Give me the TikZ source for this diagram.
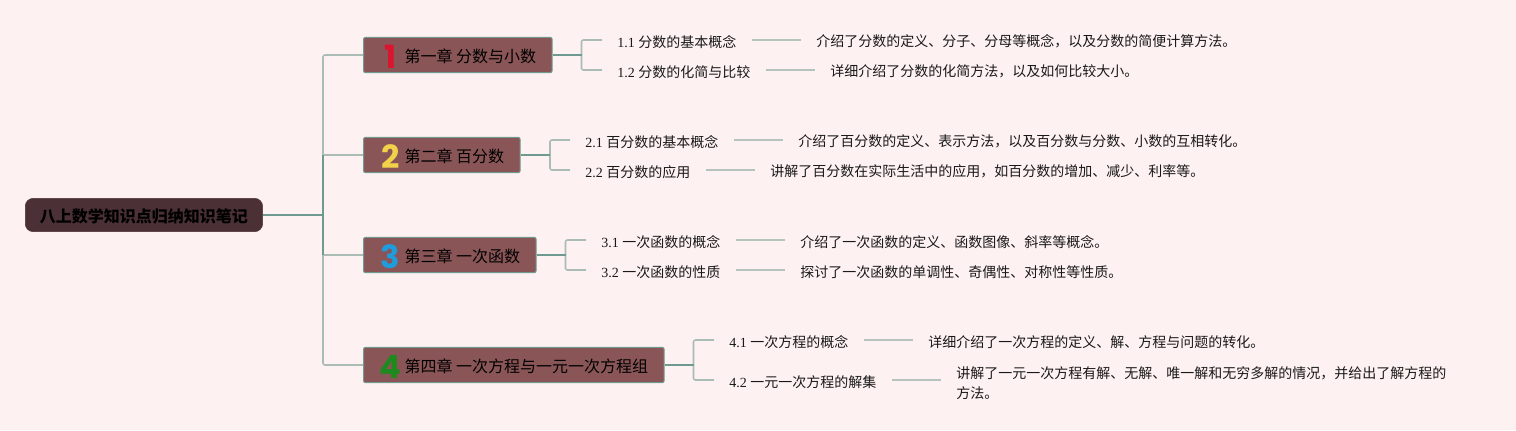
\documentclass[tikz,border=0pt]{standalone}
\usepackage{fontspec}
\setmainfont{Liberation Serif}
\newfontfamily\cjk{Noto Sans CJK SC}
\newfontfamily\numfont{Poppins}

\definecolor{paper}{HTML}{FEF1F2}
\definecolor{rootfill}{HTML}{4B3136}
\definecolor{chapfill}{HTML}{8A5557}
\definecolor{edge}{HTML}{6F9A90}
\definecolor{twig}{HTML}{A9BDB6}
\definecolor{leaf}{HTML}{B6C3BC}
\definecolor{numred}{HTML}{D9152F}
\definecolor{numyellow}{HTML}{F2D24B}
\definecolor{numblue}{HTML}{1E9CDC}
\definecolor{numgreen}{HTML}{1C8A1C}

\tikzset{
    root/.style={draw=rootfill, fill=rootfill, rounded corners=6pt, anchor=west, inner xsep=0pt,
        minimum width=178pt, minimum height=25pt, font=\fontsize{12}{12}\selectfont\cjk\bfseries, text=black},
    chapter/.style={draw=edge, fill=chapfill, rounded corners=1.5pt, line width=0.8pt, anchor=west,
        inner xsep=0pt, minimum height=26.5pt, font=\fontsize{12}{12}\selectfont\cjk, text=black},
    sub/.style={anchor=west, inner xsep=11.25pt, inner ysep=2pt, font=\fontsize{10.5}{15}\selectfont, text=black!90,
        execute at begin node={\rule{0pt}{11.5pt}}},
    desc/.style={sub, align=left, font=\fontsize{10.5}{15}\selectfont\cjk},
    thick edge/.style={draw=edge, line width=1.2pt},
    thin edge/.style={draw=twig, line width=1.2pt, rounded corners=1.5pt},
    leaf edge/.style={draw=leaf, line width=1.2pt}
}
\newcommand{\chapnum}[2]{\hspace*{9.75pt}\makebox[21pt][c]{\smash{\raisebox{-4.5pt}{\fontsize{24}{24}\selectfont\numfont\bfseries\color{#1}#2}}}\rule{0pt}{12.5pt}}
\newcommand{\dou}{\char"FF0C\relax}

\begin{document}
\begin{tikzpicture}[x=0.75pt, y=-0.75pt]
    \fill[paper] (0, 0) rectangle (1516, 430);
    \useasboundingbox (0, 0) rectangle (1516, 430);

    \node[root] (root) at (25, 215) {\rule{0pt}{12.5pt}八上数学知识点归纳知识笔记};

    \node[chapter] (ch1) at (363, 55) {\chapnum{numred}{1}第一章 分数与小数\hspace*{12pt}};
    \node[chapter] (ch2) at (363, 155) {\chapnum{numyellow}{2}第二章 百分数\hspace*{12pt}};
    \node[chapter] (ch3) at (363, 255) {\chapnum{numblue}{3}第三章 一次函数\hspace*{12pt}};
    \node[chapter] (ch4) at (363, 365) {\chapnum{numgreen}{4}第四章 一次方程与一元一次方程组\hspace*{12pt}};

    \node[sub] (s11) at (602, 40) {1.1 {\cjk 分数的基本概念}};
    \node[sub] (s12) at (602, 70) {1.2 {\cjk 分数的化简与比较}};
    \node[sub] (s21) at (570, 140) {2.1 {\cjk 百分数的基本概念}};
    \node[sub] (s22) at (570, 170) {2.2 {\cjk 百分数的应用}};
    \node[sub] (s31) at (586, 240) {3.1 {\cjk 一次函数的概念}};
    \node[sub] (s32) at (586, 270) {3.2 {\cjk 一次函数的性质}};
    \node[sub] (s41) at (714, 340) {4.1 {\cjk 一次方程的概念}};
    \node[sub] (s42) at (714, 380) {4.2 {\cjk 一元一次方程的解集}};

    \node[desc] (d11) at (801, 40) {介绍了分数的定义、分子、分母等概念\dou 以及分数的简便计算方法。};
    \node[desc] (d12) at (815, 70) {详细介绍了分数的化简方法\dou 以及如何比较大小。};
    \node[desc] (d21) at (783, 140) {介绍了百分数的定义、表示方法\dou 以及百分数与分数、小数的互相转化。};
    \node[desc] (d22) at (755, 170) {讲解了百分数在实际生活中的应用\dou 如百分数的增加、减少、利率等。};
    \node[desc] (d31) at (785, 240) {介绍了一次函数的定义、函数图像、斜率等概念。};
    \node[desc] (d32) at (785, 270) {探讨了一次函数的单调性、奇偶性、对称性等性质。};
    \node[desc] (d41) at (913, 340) {详细介绍了一次方程的定义、解、方程与问题的转化。};
    \node[desc] (d42) at (941, 380) {\rule{0pt}{14pt}讲解了一元一次方程有解、无解、唯一解和无穷多解的情况\dou 并给出了解方程的\\方法。};

    \coordinate (trunk) at (323, 215);
    \coordinate (j2) at (323, 155);
    \coordinate (j3) at (323, 255);
    \coordinate (f1) at (581.5, 55);
    \coordinate (f2) at (550, 155);
    \coordinate (f3) at (565.5, 255);
    \coordinate (f4) at (693.5, 365);

    \draw[thin edge] (j2) |- (ch1.west);
    \draw[thin edge] (j3) |- (ch4.west);
    \draw[thin edge] (j2) -- (ch2.west);
    \draw[thin edge] (j3) -- (ch3.west);
    \draw[thick edge] (root.east) -- (trunk);
    \draw[thick edge] (j2) -- (j3);

    \foreach \n in {1, 2, 3, 4} {
        \draw[thin edge] (s\n1.west) -| (f\n) |- (s\n2.west);
        \draw[thick edge] (ch\n.east) -- (f\n);
        \draw[leaf edge] (s\n1.east) -- (d\n1.west);
        \draw[leaf edge] (s\n2.east) -- (d\n2.west);
    }
\end{tikzpicture}
\end{document}
